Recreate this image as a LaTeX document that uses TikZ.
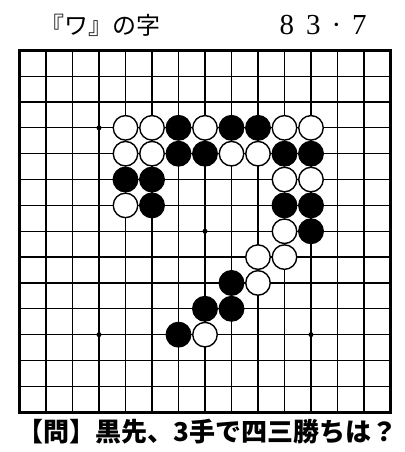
\documentclass[tikz,border=0pt]{standalone}
\usepackage{fontspec}
\newfontfamily\jpfont{Noto Sans CJK JP}
\newfontfamily\numfont{Liberation Serif}
\usetikzlibrary{positioning}

\begin{document}
\begin{tikzpicture}[
    x=26.5pt, y=-25.85pt,
    gridline/.style={line width=1.2pt},
    frame/.style={line width=2.8pt},
    star/.style={circle, fill=black, inner sep=0pt, minimum size=5pt},
    bstone/.style={circle, draw=black, fill=black, line width=1.4pt, inner sep=0pt, minimum size=24.5pt},
    wstone/.style={circle, draw=black, fill=white, line width=1.4pt, inner sep=0pt, minimum size=24.5pt}
]
\useasboundingbox (-0.7358,-1.9459) rectangle (14.547,15.540);

% Heading
\node[anchor=west, inner sep=0pt, font={\jpfont\fontsize{24pt}{24pt}\selectfont}] (title) at (0.8,-0.98) {『ワ』の字};
\node[anchor=east, inner sep=0pt, font={\numfont\fontsize{29pt}{29pt}\selectfont}] (number) at (13.11,-0.98) {8\hspace{12pt}3\hspace{11pt}·\hspace{11pt}7};

% Board 15x15
\foreach \i in {1,...,13} {
    \draw[gridline] (\i,0) -- (\i,14);
    \draw[gridline] (0,\i) -- (14,\i);
}
\draw[frame] (0,0) rectangle (14,14);
\foreach \c/\r in {3/3,11/3,7/7,3/11,11/11}
    \node[star] (s\c-\r) at (\c,\r) {};

% Black stones
\foreach \c/\r in {6/3,8/3,9/3,6/4,7/4,10/4,11/4,4/5,5/5,5/6,10/6,11/6,11/7,8/9,7/10,8/10,6/11}
    \node[bstone] (b\c-\r) at (\c,\r) {};

% White stones
\foreach \c/\r in {4/3,5/3,7/3,10/3,11/3,4/4,5/4,8/4,9/4,10/5,11/5,4/6,10/7,9/8,10/8,9/9,7/11}
    \node[wstone] (w\c-\r) at (\c,\r) {};

% Question
\node[inner sep=0pt, font={\jpfont\bfseries\fontsize{26pt}{26pt}\selectfont}] (question) at (7.11,14.77) {【問】黒先、3手で四三勝ちは？};

\end{tikzpicture}
\end{document}
